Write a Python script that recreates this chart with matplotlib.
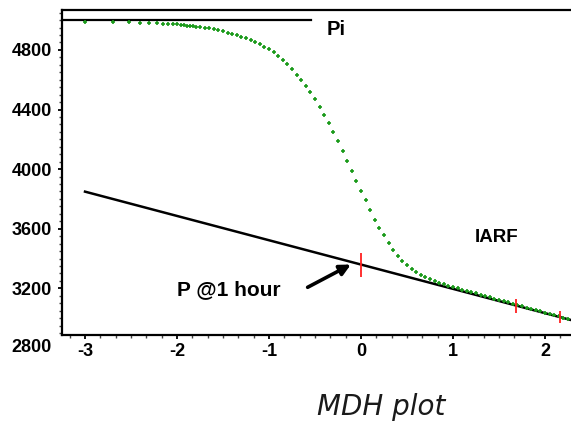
import matplotlib
matplotlib.use("Agg")
import matplotlib.pyplot as plt
from matplotlib.ticker import MultipleLocator

plt.rcParams['axes.unicode_minus'] = False

# log10 of elapsed time (hours) and measured pressure (psi)
log_t = [-3.000, -2.699, -2.523, -2.398, -2.301, -2.222, -2.155, -2.097, -2.046,
         -2.000, -1.959, -1.921, -1.886, -1.854, -1.824, -1.796, -1.750, -1.700,
         -1.650, -1.600, -1.550, -1.500, -1.450, -1.400, -1.350, -1.300, -1.250,
         -1.200, -1.150, -1.100, -1.050, -1.000, -0.950, -0.900, -0.850, -0.800,
         -0.750, -0.700, -0.650, -0.600, -0.550, -0.500, -0.450, -0.400, -0.350,
         -0.300, -0.250, -0.200, -0.150, -0.100, -0.050, 0.000, 0.050, 0.100,
         0.150, 0.200, 0.250, 0.300, 0.350, 0.400, 0.450, 0.500, 0.550, 0.600,
         0.650, 0.700, 0.750, 0.800, 0.850, 0.900, 0.950, 1.000, 1.050, 1.100,
         1.150, 1.200, 1.250, 1.300, 1.350, 1.400, 1.450, 1.500, 1.550, 1.600,
         1.650, 1.700, 1.750, 1.800, 1.850, 1.900, 1.950, 2.000, 2.050, 2.100,
         2.150, 2.200, 2.250]
pressure = [4990, 4990, 4987, 4984, 4981, 4978, 4976, 4975, 4973,
            4971, 4968, 4965, 4962, 4960, 4958, 4955, 4953, 4950,
            4945, 4939, 4932, 4924, 4915, 4906, 4898, 4890, 4880,
            4866, 4855, 4840, 4822, 4803, 4784, 4760, 4733, 4703,
            4670, 4634, 4598, 4556, 4518, 4472, 4414, 4362, 4308,
            4249, 4188, 4125, 4057, 3990, 3918, 3856, 3790, 3726,
            3660, 3607, 3555, 3504, 3455, 3416, 3385, 3356, 3330, 3307,
            3289, 3274, 3260, 3249, 3238, 3228, 3218, 3207, 3199, 3191,
            3183, 3175, 3166, 3157, 3148, 3140, 3131, 3122, 3114, 3106,
            3097, 3089, 3080, 3071, 3063, 3055, 3046, 3037, 3029, 3020,
            3012, 3003, 2995]

# semilog straight line (IARF) end points
line_t = [-3.0, 2.5]
line_p = [3849, 2952]

# initial pressure
pi_value = 5000

# markers on the straight line
mark_t = [0.0, 1.69, 2.16]
mark_p = [3360, 3084, 3008]
mark_size = [17, 9.5, 8]

fig = plt.figure(figsize=(5.71, 4.22), dpi=100)
ax = fig.add_axes([0.1086, 0.2062, 0.8914, 0.7701])

ax.set_xlim(-3.25, 2.283)
ax.set_ylim(2887, 5068)

# straight line
ax.plot(line_t, line_p, color='black', lw=1.8, zorder=3)

# Pi line
ax.plot([-3.25, -0.54], [pi_value, pi_value], color='black', lw=1.6, zorder=3)

# data points
ax.plot(log_t, pressure, linestyle='none', marker='+', ms=3.2, mew=1.2,
        color='#1a9a1a', zorder=4)

# red markers
for t, p, s in zip(mark_t, mark_p, mark_size):
    ax.plot([t], [p], marker='|', ms=s, mew=1.3, color='#ff2020', zorder=5)

# labels
bold = dict(family='Liberation Sans', weight='bold', color='black')
ax.text(-0.37, 4901, 'Pi', fontsize=14.5, ha='left', va='baseline', **bold)
ax.text(1.24, 3511, 'IARF', fontsize=13.5, ha='left', va='baseline', **bold)
ax.text(-2.0, 3156, 'P @1 hour', fontsize=15, ha='left', va='baseline', **bold)
ax.annotate('', xy=(-0.11, 3360), xytext=(-0.58, 3207),
            arrowprops=dict(arrowstyle='-|>', lw=2.6, color='black',
                            mutation_scale=16, shrinkA=0, shrinkB=0))

# axes styling
for side in ['left', 'bottom', 'top']:
    ax.spines[side].set_linewidth(1.6)
ax.spines['right'].set_visible(False)

ax.set_xticks([-3, -2, -1, 0, 1, 2])
ax.set_yticks([3200, 3600, 4000, 4400, 4800])
ax.xaxis.set_minor_locator(MultipleLocator(1 / 6))
ax.yaxis.set_minor_locator(MultipleLocator(50))
ax.tick_params(which='major', direction='out', length=3, width=1.3)
ax.tick_params(axis='y', which='major', pad=4)
ax.tick_params(axis='x', which='major', pad=2.5)
ax.tick_params(which='minor', direction='out', length=2, width=1, color='#444444')
ax.tick_params(top=False, right=False, which='both')
for lab in ax.get_xticklabels() + ax.get_yticklabels():
    lab.set_fontfamily('Liberation Sans')
    lab.set_fontweight('bold')
    lab.set_fontsize(13)

# bottom value sits below the x axis
ax.text(-3.36, 2800, '2800', fontsize=13, ha='right', va='center',
        clip_on=False, **bold)

fig.text(0.667, 0.036, 'MDH plot', fontsize=20, style='italic',
         family='DejaVu Sans', color='#1a1a1a', ha='center', va='center')

fig.savefig('out.png', dpi=100)
